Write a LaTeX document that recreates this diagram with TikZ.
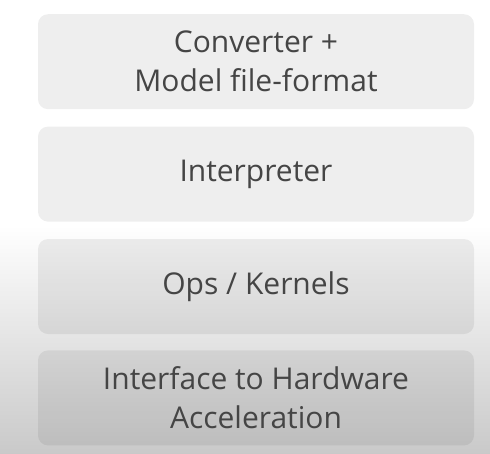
\documentclass[tikz,border=0pt]{standalone}
\usepackage{fontspec}
\setmainfont{Open Sans}
\usepackage{tikz}
\usetikzlibrary{calc}
\usetikzlibrary{positioning,backgrounds}
\usepackage{xcolor}
\definecolor{textgray}{rgb}{0.27,0.27,0.27}
\definecolor{floorgray}{rgb}{0.79,0.79,0.79}

\begin{document}
\begin{tikzpicture}[x=1pt,y=1pt,node distance=17pt,
    layer/.style={fill=black,fill opacity=0.065,text opacity=1,rounded corners=10pt,
      minimum width=436pt,minimum height=95pt,align=center,text=textgray,
      font=\fontsize{30}{39}\selectfont}]
    \useasboundingbox (0,0) rectangle (490,-453);
    \fill[white] (0,0) rectangle (490,-225);
    \shade[top color=white,bottom color=floorgray] (0,-225) rectangle (490,-453);
    \node[layer,anchor=north] (conv) at (256,-14) {Converter +\\Model file-format};
    \node[layer,below=of conv] (interp) {Interpreter};
    \node[layer,below=of interp] (ops) {Ops / Kernels};
    \node[layer,below=16pt of ops] (hwaccel) {Interface to Hardware\\Acceleration};
  \end{tikzpicture}
\end{document}
